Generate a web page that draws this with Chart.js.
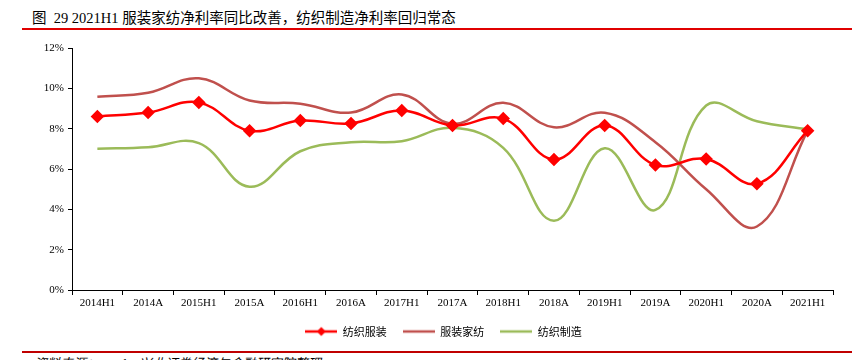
<!DOCTYPE html>
<html>
<head>
<meta charset="utf-8">
<script src="https://cdn.jsdelivr.net/npm/chart.js@4"></script>
<style>
  body { margin: 0; width: 852px; height: 360px; background: #fff; overflow: hidden; position: relative;
         font-family: "Liberation Serif", "Noto Sans CJK SC", serif; }
  .title { position: absolute; left: 32px; top: 6px; font-size: 14.5px; color: #000; white-space: nowrap; }
  .rule-top { position: absolute; left: 22px; right: 0; top: 28px; height: 2px; background: #e00000; }
  .rule-bottom { position: absolute; left: 22px; right: 0; top: 351px; height: 2px; background: #c00000; }
  .source { position: absolute; left: 34px; top: 353px; font-size: 13px; color: #000; font-style: italic; white-space: nowrap; }
  .wrap { position: absolute; left: 0; top: 35px; width: 852px; height: 312px; }
</style>
</head>
<body>
<div class="title">图&nbsp;&nbsp;29 2021H1 服装家纺净利率同比改善，纺织制造净利率回归常态</div>
<div class="rule-top"></div>
<div class="wrap"><canvas id="netMarginChart"></canvas></div>
<div class="rule-bottom"></div>
<div class="source">资料来源：Wind，兴业证券经济与金融研究院整理</div>
<script>
document.addEventListener("DOMContentLoaded", function () {
    /* ================= DATA ================= */
    const periods = ['2014H1', '2014A', '2015H1', '2015A', '2016H1', '2016A', '2017H1', '2017A',
                     '2018H1', '2018A', '2019H1', '2019A', '2020H1', '2020A', '2021H1'];
    const textileApparel = [8.6, 8.8, 9.3, 7.9, 8.4, 8.26, 8.9, 8.16, 8.5, 6.47, 8.16, 6.2, 6.5, 5.27, 7.9];
    const homeTextile = [9.58, 9.78, 10.5, 9.4, 9.24, 8.8, 9.7, 8.24, 9.29, 8.07, 8.79, 7.33, 5.0, 3.15, 7.9];
    const textileMfg = [7.0, 7.08, 7.28, 5.12, 6.88, 7.33, 7.38, 8.04, 7.05, 3.43, 7.03, 3.97, 9.15, 8.37, 7.96];
    const seriesNames = ['纺织服装', '服装家纺', '纺织制造'];
    const yTicks = [0, 2, 4, 6, 8, 10, 12];

    const colors = ['#ff0000', '#c0504d', '#9bbb59'];

    // legend swatch: a short line, with a diamond for the marker series
    function swatch(color, withMarker) {
        const c = document.createElement('canvas');
        c.width = 32; c.height = 12;
        const ctx = c.getContext('2d');
        ctx.strokeStyle = color;
        ctx.lineWidth = 2.5;
        ctx.beginPath();
        ctx.moveTo(0, 6); ctx.lineTo(32, 6);
        ctx.stroke();
        if (withMarker) {
            ctx.fillStyle = color;
            ctx.beginPath();
            ctx.moveTo(16, 1.5); ctx.lineTo(20.5, 6); ctx.lineTo(16, 10.5); ctx.lineTo(11.5, 6);
            ctx.closePath();
            ctx.fill();
        }
        return c;
    }
    const swatches = [swatch(colors[0], true), swatch(colors[1], false), swatch(colors[2], false)];

    // nudge the legend a bit to the right, like the original
    const legendShift = {
        id: 'legendShift',
        afterLayout(chart) {
            if (chart.legend) {
                chart.legend.left += 27;
                chart.legend.right += 27;
            }
        }
    };

    const tickFont = { family: '"Liberation Serif", "Times New Roman", serif', size: 11 };

    new Chart(document.getElementById('netMarginChart'), {
        type: 'line',
        data: {
            labels: periods,
            datasets: [
                {
                    label: seriesNames[0],
                    data: textileApparel,
                    borderColor: colors[0],
                    backgroundColor: colors[0],
                    borderWidth: 2.5,
                    pointStyle: 'rectRot',
                    pointRadius: 5,
                    pointHoverRadius: 5,
                    tension: 0.4
                },
                {
                    label: seriesNames[1],
                    data: homeTextile,
                    borderColor: colors[1],
                    backgroundColor: colors[1],
                    borderWidth: 2.5,
                    pointRadius: 0,
                    tension: 0.4
                },
                {
                    label: seriesNames[2],
                    data: textileMfg,
                    borderColor: colors[2],
                    backgroundColor: colors[2],
                    borderWidth: 2.5,
                    pointRadius: 0,
                    tension: 0.4
                }
            ]
        },
        options: {
            responsive: true,
            maintainAspectRatio: false,
            animation: false,
            layout: { padding: { top: 13, right: 19, left: 0, bottom: 0 } },
            plugins: {
                tooltip: { enabled: false },
                legend: {
                    position: 'bottom',
                    labels: {
                        usePointStyle: true,
                        pointStyleWidth: 32,
                        color: '#000',
                        font: { family: '"Noto Sans CJK SC", sans-serif', size: 11 },
                        padding: 16,
                        generateLabels: function (chart) {
                            return chart.data.datasets.map((ds, i) => ({
                                text: ds.label,
                                fillStyle: ds.borderColor,
                                strokeStyle: ds.borderColor,
                                pointStyle: swatches[i],
                                fontColor: '#000',
                                datasetIndex: i,
                                hidden: false
                            }));
                        }
                    }
                }
            },
            scales: {
                x: {
                    offset: true,
                    grid: { offset: true, drawOnChartArea: false, drawTicks: true, tickLength: 5, color: '#000' },
                    border: { color: '#000', width: 1 },
                    ticks: { color: '#000', font: tickFont, maxRotation: 0, autoSkip: false, padding: 2 },
                    afterFit: function (scale) { scale.height = 20; }
                },
                y: {
                    min: yTicks[0],
                    max: yTicks[yTicks.length - 1],
                    afterBuildTicks: function (scale) {
                        scale.ticks = yTicks.map(v => ({ value: v }));
                    },
                    grid: { drawOnChartArea: false, drawTicks: true, tickLength: 4, color: '#000' },
                    border: { color: '#000', width: 1 },
                    ticks: {
                        color: '#000',
                        font: tickFont,
                        padding: 4,
                        callback: v => v + '%'
                    },
                    afterFit: function (scale) { scale.width = 72; }
                }
            }
        },
        plugins: [legendShift]
    });
});
</script>
</body>
</html>
